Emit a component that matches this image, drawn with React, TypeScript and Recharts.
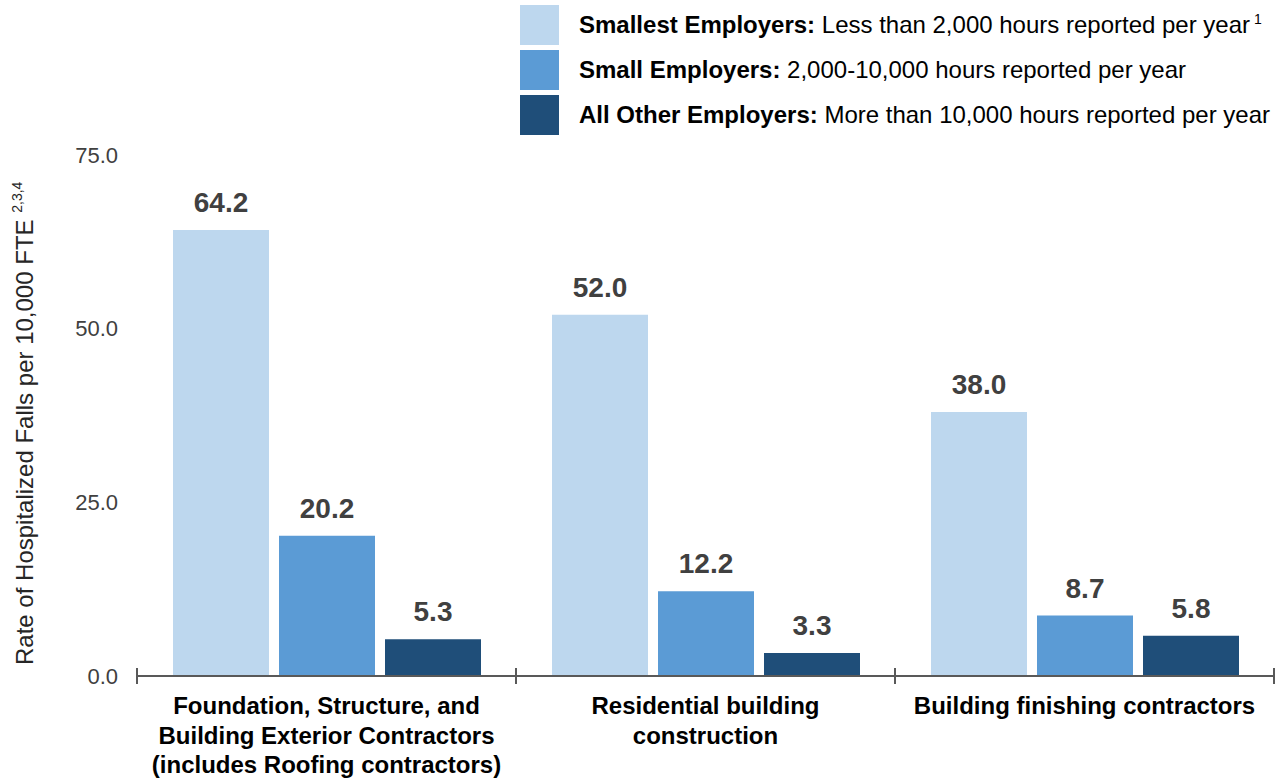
import React from "react";
import { BarChart, Bar, XAxis, YAxis, LabelList, Label } from "recharts";

const categoryLines = [
  ["Foundation, Structure, and", "Building Exterior Contractors", "(includes Roofing contractors)"],
  ["Residential building", "construction"],
  ["Building finishing contractors"],
];
const smallestValues = [64.2, 52.0, 38.0];
const smallValues = [20.2, 12.2, 8.7];
const otherValues = [5.3, 3.3, 5.8];
const yTicks = [0, 25, 50, 75];
// category boundaries on a 0..3 scale, used for the crossing tick marks
const edgeTicks = [0, 1, 2, 3];

const legendItems = [
  { key: "smallest", bold: "Smallest Employers:", rest: " Less than 2,000 hours reported per year", sup: "1", color: "#BDD7EE" },
  { key: "small", bold: "Small Employers:", rest: " 2,000-10,000 hours reported per year", sup: "", color: "#5B9BD5" },
  { key: "other", bold: "All Other Employers:", rest: " More than 10,000 hours reported per year", sup: "", color: "#1F4E79" },
];

const data = categoryLines.map((lines, i) => ({
  name: lines.join(" "),
  pos: i + 0.5,
  smallest: smallestValues[i],
  small: smallValues[i],
  other: otherValues[i],
}));

const FONT = '"Liberation Sans", Arial, Helvetica, sans-serif';
const AXIS = "#595959";

function CategoryTick({ x, y, index }: any) {
  const lines = categoryLines[index] || [];
  return (
    <text x={x} y={y} textAnchor="middle" fontFamily={FONT} fontSize={24} fontWeight="bold" fill="#000">
      {lines.map((ln, i) => (
        <tspan key={i} x={x} y={y + 37 + i * 29.5}>
          {ln}
        </tspan>
      ))}
    </text>
  );
}

function EdgeTick({ x, y }: any) {
  return <line x1={x} x2={x} y1={y - 8} y2={y + 8} stroke={AXIS} strokeWidth={2} />;
}

function YTitle({ viewBox }: any) {
  const cx = viewBox.x + 33;
  const cy = viewBox.y + viewBox.height - 11;
  return (
    <text
      x={cx}
      y={cy}
      transform={`rotate(-90 ${cx} ${cy})`}
      textAnchor="start"
      fontFamily={FONT}
      fontSize={24}
      fill="#262626"
    >
      Rate of Hospitalized Falls per 10,000 FTE{" "}
      <tspan fontSize={14} dy={-11}>
        2,3,4
      </tspan>
    </text>
  );
}

function Legend() {
  return (
    <div style={{ position: "absolute", left: 520, top: 5, fontFamily: FONT, fontSize: 24, color: "#000" }}>
      {legendItems.map((it) => (
        <div key={it.key} style={{ display: "flex", alignItems: "center", height: 40, marginBottom: 5 }}>
          <div style={{ width: 39, height: 40, background: it.color }} />
          <div style={{ marginLeft: 20, whiteSpace: "nowrap" }}>
            <b>{it.bold}</b>
            {it.rest}
            {it.sup && <sup style={{ fontSize: 14, marginLeft: 4 }}>{it.sup}</sup>}
          </div>
        </div>
      ))}
    </div>
  );
}

export default function App() {
  return (
    <div style={{ position: "absolute", left: 0, top: 0, width: 1279, height: 780, background: "#fff" }}>
      <BarChart
        width={1279}
        height={780}
        data={data}
        margin={{ top: 155, right: 5, bottom: 0, left: 0 }}
        barCategoryGap={36}
        barGap={10}
      >
        <XAxis
          xAxisId={0}
          type="number"
          dataKey="pos"
          domain={[0, 3]}
          ticks={edgeTicks}
          interval={0}
          height={1}
          tickSize={0}
          tickMargin={0}
          tickLine={false}
          axisLine={{ stroke: AXIS, strokeWidth: 2 }}
          tick={<EdgeTick />}
        />
        <XAxis
          xAxisId="cat"
          dataKey="name"
          height={103}
          interval={0}
          tickSize={0}
          tickMargin={0}
          tickLine={false}
          axisLine={false}
          tick={<CategoryTick />}
        />
        <YAxis
          width={137}
          domain={[0, 75]}
          ticks={yTicks}
          interval={0}
          axisLine={false}
          tickLine={false}
          tickSize={0}
          tickMargin={19}
          tickFormatter={(v: number) => v.toFixed(1)}
          tick={{ fontFamily: FONT, fontSize: 22, fill: "#404040" }}
        >
          <Label content={<YTitle />} />
        </YAxis>
        {legendItems.map((it) => (
          <Bar key={it.key} xAxisId="cat" dataKey={it.key} fill={it.color} isAnimationActive={false}>
            <LabelList
              dataKey={it.key}
              position="top"
              offset={18}
              formatter={(v: any) => Number(v).toFixed(1)}
              style={{ fontFamily: FONT, fontSize: 28, fontWeight: "bold", fill: "#404040" }}
            />
          </Bar>
        ))}
      </BarChart>
      <Legend />
    </div>
  );
}
